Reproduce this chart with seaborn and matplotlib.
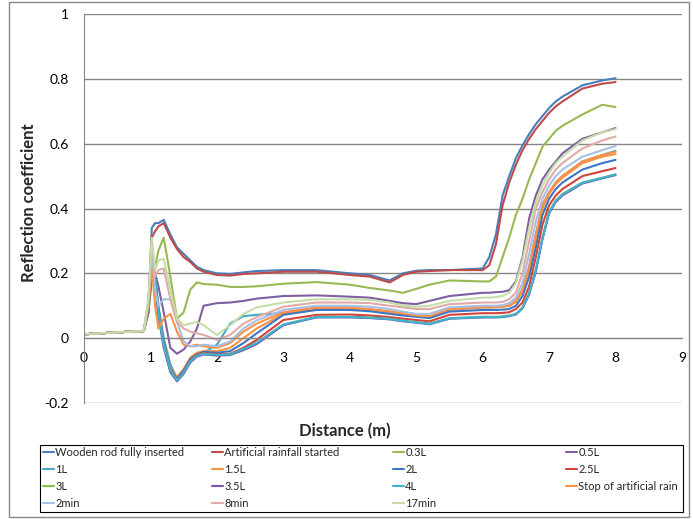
import numpy as np
import pandas as pd
import matplotlib
matplotlib.use("Agg")
import matplotlib.pyplot as plt
from matplotlib.lines import Line2D
from matplotlib.patches import Rectangle
import seaborn as sns

# distance grid (m) the curves were read at
distance = [0, 0.5, 0.9, 0.97, 1.02, 1.07, 1.12, 1.2, 1.3, 1.4,
            1.5, 1.6, 1.7, 1.8, 2.0, 2.2, 2.4, 2.6, 3.0, 3.5,
            4.0, 4.3, 4.6, 4.8, 5.0, 5.2, 5.5, 6.0, 6.1, 6.2,
            6.3, 6.4, 6.5, 6.6, 6.7, 6.8, 6.9, 7.0, 7.1, 7.2,
            7.5, 7.8, 8.0]

series_names = ["Wooden rod fully inserted", "Artificial rainfall started", "0.3L", "0.5L",
                "1L", "1.5L", "2L", "2.5L", "3L", "3.5L", "4L",
                "Stop of artificial rain", "2min", "8min", "17min"]

wooden = [0.012, 0.018, 0.022, 0.10, 0.34, 0.355, 0.355, 0.365, 0.32, 0.28,
          0.26, 0.24, 0.22, 0.21, 0.20, 0.198, 0.203, 0.207, 0.21, 0.21,
          0.20, 0.195, 0.178, 0.20, 0.208, 0.21, 0.21, 0.215, 0.25, 0.32,
          0.44, 0.50, 0.555, 0.595, 0.63, 0.66, 0.685, 0.71, 0.73, 0.745,
          0.78, 0.795, 0.802]
rain_started = [0.012, 0.018, 0.022, 0.08, 0.31, 0.33, 0.345, 0.355, 0.31, 0.275,
                0.25, 0.235, 0.215, 0.205, 0.195, 0.193, 0.198, 0.20, 0.205, 0.205,
                0.195, 0.19, 0.172, 0.195, 0.205, 0.207, 0.21, 0.21, 0.225, 0.29,
                0.41, 0.48, 0.535, 0.58, 0.615, 0.645, 0.67, 0.695, 0.715, 0.73,
                0.77, 0.785, 0.79]
l_03 = [0.012, 0.018, 0.022, 0.08, 0.18, 0.22, 0.27, 0.31, 0.19, 0.06,
        0.08, 0.15, 0.172, 0.167, 0.165, 0.158, 0.158, 0.16, 0.168, 0.173,
        0.165, 0.155, 0.147, 0.14, 0.152, 0.165, 0.178, 0.175, 0.175, 0.19,
        0.25, 0.31, 0.38, 0.43, 0.49, 0.54, 0.59, 0.615, 0.64, 0.655,
        0.69, 0.72, 0.713]
l_05 = [0.012, 0.018, 0.022, 0.08, 0.19, 0.20, 0.16, 0.08, -0.03, -0.048,
        -0.035, -0.01, 0.03, 0.10, 0.108, 0.11, 0.115, 0.122, 0.13, 0.132,
        0.128, 0.125, 0.115, 0.108, 0.105, 0.115, 0.13, 0.14, 0.14, 0.142,
        0.143, 0.148, 0.175, 0.25, 0.37, 0.44, 0.49, 0.52, 0.545, 0.57,
        0.615, 0.635, 0.648]
l_1 = [0.012, 0.018, 0.022, 0.10, 0.26, 0.20, 0.10, 0.0, -0.08, -0.125,
       -0.10, -0.065, -0.05, -0.045, -0.02, 0.045, 0.068, 0.072, 0.078, 0.092,
       0.092, 0.088, 0.08, 0.074, 0.068, 0.066, 0.088, 0.095, 0.095, 0.096,
       0.098, 0.10, 0.115, 0.15, 0.22, 0.32, 0.41, 0.45, 0.48, 0.50,
       0.545, 0.565, 0.578]
l_15 = [0.012, 0.018, 0.022, 0.10, 0.25, 0.18, 0.08, -0.01, -0.09, -0.12,
        -0.095, -0.06, -0.045, -0.04, -0.04, -0.03, 0.0, 0.03, 0.075, 0.09,
        0.09, 0.087, 0.08, 0.074, 0.068, 0.066, 0.088, 0.095, 0.095, 0.095,
        0.097, 0.10, 0.112, 0.145, 0.21, 0.31, 0.40, 0.445, 0.475, 0.495,
        0.54, 0.56, 0.568]
l_2 = [0.012, 0.018, 0.022, 0.10, 0.26, 0.19, 0.09, -0.01, -0.095, -0.125,
       -0.10, -0.065, -0.05, -0.042, -0.045, -0.04, -0.015, 0.015, 0.072, 0.087,
       0.087, 0.083, 0.075, 0.07, 0.066, 0.062, 0.082, 0.087, 0.087, 0.087,
       0.088, 0.09, 0.10, 0.13, 0.19, 0.28, 0.38, 0.43, 0.46, 0.48,
       0.52, 0.54, 0.55]
l_25 = [0.012, 0.018, 0.022, 0.10, 0.25, 0.18, 0.08, -0.02, -0.10, -0.128,
        -0.105, -0.07, -0.052, -0.045, -0.05, -0.048, -0.03, -0.005, 0.056, 0.072,
        0.073, 0.07, 0.065, 0.06, 0.056, 0.052, 0.072, 0.077, 0.077, 0.077,
        0.078, 0.08, 0.09, 0.11, 0.16, 0.25, 0.35, 0.41, 0.44, 0.46,
        0.50, 0.515, 0.525]
l_3 = [0.012, 0.018, 0.022, 0.10, 0.25, 0.18, 0.08, -0.02, -0.10, -0.13,
       -0.108, -0.072, -0.055, -0.048, -0.052, -0.05, -0.035, -0.015, 0.042, 0.066,
       0.066, 0.064, 0.06, 0.054, 0.05, 0.045, 0.062, 0.066, 0.066, 0.066,
       0.067, 0.07, 0.075, 0.095, 0.14, 0.21, 0.31, 0.39, 0.425, 0.445,
       0.48, 0.495, 0.505]
l_35 = [0.012, 0.018, 0.022, 0.10, 0.24, 0.17, 0.07, -0.03, -0.105, -0.133,
        -0.11, -0.075, -0.057, -0.05, -0.054, -0.052, -0.037, -0.018, 0.04, 0.064,
        0.064, 0.062, 0.058, 0.052, 0.048, 0.043, 0.06, 0.064, 0.064, 0.064,
        0.065, 0.068, 0.073, 0.092, 0.135, 0.205, 0.305, 0.385, 0.42, 0.44,
        0.477, 0.493, 0.503]
l_4 = [0.012, 0.018, 0.022, 0.10, 0.25, 0.18, 0.08, -0.025, -0.10, -0.13,
       -0.107, -0.072, -0.055, -0.048, -0.052, -0.05, -0.034, -0.014, 0.042, 0.065,
       0.065, 0.063, 0.059, 0.053, 0.049, 0.044, 0.061, 0.065, 0.065, 0.065,
       0.066, 0.069, 0.074, 0.093, 0.138, 0.208, 0.308, 0.388, 0.423, 0.443,
       0.479, 0.494, 0.505]
rain_stop = [0.012, 0.018, 0.022, 0.10, 0.22, 0.10, 0.03, 0.06, 0.075, 0.02,
             -0.02, -0.025, -0.02, -0.025, -0.03, -0.015, 0.02, 0.045, 0.08, 0.095,
             0.095, 0.09, 0.083, 0.077, 0.07, 0.068, 0.09, 0.097, 0.097, 0.097,
             0.098, 0.10, 0.115, 0.15, 0.22, 0.32, 0.41, 0.45, 0.48, 0.50,
             0.545, 0.565, 0.575]
min_2 = [0.012, 0.018, 0.022, 0.12, 0.28, 0.15, 0.10, 0.12, 0.12, 0.05,
         -0.01, -0.025, -0.025, -0.02, -0.025, -0.01, 0.03, 0.055, 0.087, 0.10,
         0.10, 0.097, 0.09, 0.082, 0.075, 0.075, 0.095, 0.10, 0.10, 0.10,
         0.102, 0.108, 0.125, 0.17, 0.26, 0.36, 0.43, 0.47, 0.50, 0.52,
         0.56, 0.58, 0.593]
min_8 = [0.012, 0.018, 0.022, 0.12, 0.30, 0.19, 0.21, 0.215, 0.12, 0.05,
         0.03, 0.02, 0.015, 0.01, -0.005, 0.01, 0.045, 0.065, 0.097, 0.11,
         0.11, 0.108, 0.10, 0.095, 0.09, 0.09, 0.105, 0.11, 0.11, 0.11,
         0.112, 0.12, 0.14, 0.20, 0.30, 0.40, 0.45, 0.49, 0.52, 0.54,
         0.585, 0.61, 0.622]
min_17 = [0.012, 0.018, 0.022, 0.12, 0.31, 0.21, 0.24, 0.245, 0.15, 0.06,
          0.04, 0.045, 0.05, 0.04, 0.01, 0.04, 0.075, 0.095, 0.11, 0.12,
          0.12, 0.118, 0.11, 0.10, 0.097, 0.10, 0.115, 0.125, 0.125, 0.127,
          0.13, 0.14, 0.17, 0.24, 0.34, 0.42, 0.47, 0.51, 0.54, 0.56,
          0.61, 0.635, 0.645]

colors = ["#4A7EBB", "#BE4B48", "#98B954", "#7D60A0", "#46AAC5", "#F69240",
          "#3D76C3", "#D2433E", "#8CC048", "#7B56AB", "#3DB2D3", "#F89248",
          "#A7BFE3", "#E1AAA8", "#C6DDA9"]

# long-form table for seaborn
wide = pd.DataFrame(dict(zip(series_names,
                             [wooden, rain_started, l_03, l_05, l_1, l_15, l_2, l_25,
                              l_3, l_35, l_4, rain_stop, min_2, min_8, min_17])))
wide["Distance"] = distance
df = wide.melt(id_vars="Distance", var_name="series", value_name="value")

sns.set_style("white")
plt.rcParams["font.family"] = ["Lato", "DejaVu Sans"]

fig = plt.figure(figsize=(6.93, 5.19), dpi=100)
ax = fig.add_axes([0.1212, 0.2235, 0.8629, 0.7495])

sns.lineplot(data=df, x="Distance", y="value", hue="series", hue_order=series_names,
             palette=colors, estimator=None, sort=False, linewidth=1.5,
             legend=False, ax=ax)

# Excel-style axes
ax.set_xlim(0, 9)
ax.set_ylim(-0.2, 1)
ax.set_xticks(range(10))
ax.set_yticks(np.arange(-0.2, 1.01, 0.2))
ax.set_yticklabels(["-0.2", "0", "0.2", "0.4", "0.6", "0.8", "1"])
ax.yaxis.grid(True, color="#868686", linewidth=1)
ax.xaxis.grid(False)
for side in ["top", "right"]:
    ax.spines[side].set_visible(False)
ax.spines["bottom"].set_position(("data", 0))
ax.spines["left"].set_color("#868686")
ax.spines["bottom"].set_color("#868686")
ax.tick_params(axis="both", direction="out", length=4, color="#868686",
               labelsize=10, labelcolor="black")
ax.tick_params(axis="y", pad=7)
ax.tick_params(axis="x", pad=6)
ax.set_axisbelow(True)

ax.set_xlabel("Distance (m)", fontsize=12, fontweight="bold")
ax.set_ylabel("Reflection coefficient", fontsize=12, fontweight="bold")
ax.xaxis.set_label_coords(0.436, -0.052)
ax.yaxis.set_label_coords(-0.078, 0.514)

# legend: 4 columns, row-major like the original, one legend per column
handles = [Line2D([], [], color=c, linewidth=1.5) for c in colors]
col_x = [43, 212, 393, 566]
for col in range(4):
    idx = list(range(col, len(series_names), 4))
    fig.legend([handles[i] for i in idx], [series_names[i] for i in idx],
               loc="upper left", bbox_to_anchor=(col_x[col] / 693, 1 - 447 / 519),
               frameon=False, fontsize=8, handlelength=0.95, handletextpad=0.15,
               labelspacing=0.55, borderpad=0, borderaxespad=0)

fig.patches.append(Rectangle((40 / 693, 1 - 512 / 519), 643 / 693, 67 / 519,
                             transform=fig.transFigure, fill=False,
                             edgecolor="black", linewidth=0.8))
fig.patches.append(Rectangle((9 / 693, 2 / 519), 680 / 693, 515 / 519,
                             transform=fig.transFigure, fill=False,
                             edgecolor="#888888", linewidth=1))

fig.savefig("out.png", dpi=100)
